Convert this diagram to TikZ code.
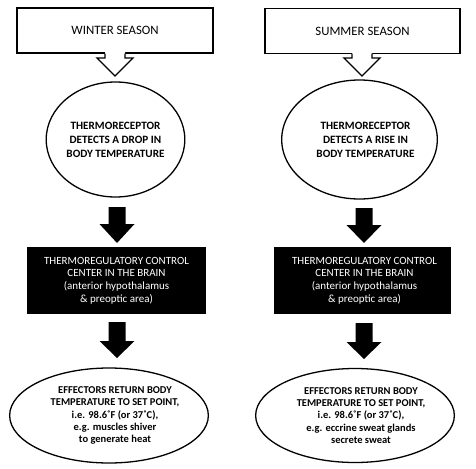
\documentclass[tikz,border=0pt]{standalone}
\usepackage{fontspec}
\setmainfont{Carlito}
\usetikzlibrary{shapes.geometric}
\begin{document}
\begin{tikzpicture}[x=1pt,y=-1pt,
  seasonbox/.style={draw,line width=1.3pt,fill=white,minimum width=#1,minimum height=45pt,inner sep=0pt,font=\fontsize{12.8}{14}\selectfont},
  sensor/.style={draw,ellipse,line width=1.3pt,inner sep=0pt,align=center,font=\fontsize{11.2}{14}\selectfont\bfseries},
  center/.style={fill=black,text=white,minimum height=67pt,inner sep=0pt,align=center,font=\fontsize{11}{12.7}\selectfont},
  effector/.style={draw,ellipse,line width=1.3pt,inner sep=0pt,align=center,minimum width=182pt,minimum height=95pt,font=\fontsize{10.5}{12.2}\selectfont\bfseries},
  hollowarrow/.style={line width=1.3pt,line join=miter},
  blockarrow/.style={fill=black}]
\useasboundingbox (0,0) rectangle (476,468);
% season boxes
\node[seasonbox=196pt] (winter) at (115,30.5) {WINTER SEASON};
\node[seasonbox=195pt] (summer) at (362.5,31) {SUMMER SEASON};
% hollow arrows
\fill[white] (105,51) -- (105,58) -- (97,58) -- (115,76) -- (133,58) -- (125,58) -- (125,51) -- cycle;
\draw[hollowarrow] (105,53.6) -- (105,58) -- (97,58) -- (115,76) -- (133,58) -- (125,58) -- (125,53.6);
\fill[white] (352,51) -- (352,58) -- (344,58) -- (362,76) -- (380,58) -- (372,58) -- (372,51) -- cycle;
\draw[hollowarrow] (352,53.6) -- (352,58) -- (344,58) -- (362,76) -- (380,58) -- (372,58) -- (372,53.6);
% thermoreceptors
\node[sensor,minimum width=129pt,minimum height=115pt] (recw) at (115.5,139.5) {THERMORECEPTOR\\DETECTS A DROP IN\\BODY TEMPERATURE};
\node[sensor,minimum width=121pt,minimum height=119pt] (recs) at (359.5,139.5) {\hspace*{12pt}THERMORECEPTOR\\\hspace*{12pt}DETECTS A RISE IN\\\hspace*{12pt}BODY TEMPERATURE};
% black arrows 1
\fill[blockarrow] (108.5,207) -- (125.5,207) -- (125.5,224) -- (134.5,224) -- (117,243) -- (99.5,224) -- (108.5,224) -- cycle;
\fill[blockarrow] (355.5,208) -- (372.5,208) -- (372.5,225) -- (381.5,225) -- (364,243) -- (346.5,225) -- (355.5,225) -- cycle;
% control centers
\node[center,minimum width=179pt] (ctrw) at (116.5,280.5) {THERMOREGULATORY CONTROL\\CENTER IN THE BRAIN\\(anterior hypothalamus\\\& preoptic area)};
\node[center,minimum width=177pt] (ctrs) at (362.5,280.5) {\hspace*{4pt}THERMOREGULATORY CONTROL\\\hspace*{4pt}CENTER IN THE BRAIN\\\hspace*{4pt}(anterior hypothalamus\\\hspace*{4pt}\& preoptic area)};
% black arrows 2
\fill[blockarrow] (108.5,322) -- (125.5,322) -- (125.5,341) -- (134.5,341) -- (117,358) -- (99.5,341) -- (108.5,341) -- cycle;
\fill[blockarrow] (355.5,323) -- (372.5,323) -- (372.5,342) -- (381.5,342) -- (364,359) -- (346.5,342) -- (355.5,342) -- cycle;
% effectors
\node[effector] (effw) at (109,415.5) {\hspace*{12pt}EFFECTORS RETURN BODY\\\hspace*{12pt}TEMPERATURE TO SET POINT,\\\hspace*{12pt}i.e. 98.6˚F (or 37˚C),\\\hspace*{12pt}e.g. muscles shiver\\\hspace*{12pt}to generate heat};
\node[effector,minimum width=184pt,minimum height=94pt] (effs) at (355,415.5) {\hspace*{12pt}EFFECTORS RETURN BODY\\\hspace*{12pt}TEMPERATURE TO SET POINT,\\\hspace*{12pt}i.e. 98.6˚F (or 37˚C),\\\hspace*{12pt}e.g. eccrine sweat glands\\\hspace*{12pt}secrete sweat};
\end{tikzpicture}
\end{document}
